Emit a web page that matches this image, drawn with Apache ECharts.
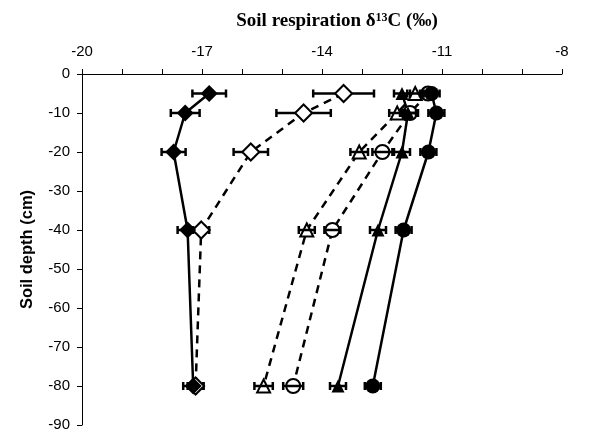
<!DOCTYPE html>
<html>
<head>
<meta charset="utf-8">
<script src="https://cdn.jsdelivr.net/npm/echarts@6/dist/echarts.min.js"></script>
<style>
  html, body { margin: 0; padding: 0; background: #fff; }
  #chart { width: 599px; height: 435px; }
</style>
</head>
<body>
<div id="chart"></div>
<script>
// 土壤深度 (cm)
const depths = [-5, -10, -20, -40, -80]

// 各处理的 δ13C 均值
const filledDiamond = [-16.82, -17.42, -17.71, -17.36, -17.22]
const openDiamond = [-13.46, -14.46, -15.78, -17.02, -17.16]
const openTriangle = [-11.67, -12.12, -13.07, -14.38, -15.46]
const openCircle = [-11.35, -11.8, -12.49, -13.74, -14.72]
const filledTriangle = [-12.0, -11.85, -12.0, -12.6, -13.6]
const filledCircle = [-11.26, -11.14, -11.34, -11.96, -12.73]

// 误差 (±)
const filledDiamondErr = [0.42, 0.36, 0.3, 0.25, 0.25]
const openDiamondErr = [0.76, 0.68, 0.43, 0.2, 0.2]
const openTriangleErr = [0.2, 0.2, 0.22, 0.2, 0.23]
const openCircleErr = [0.2, 0.2, 0.25, 0.2, 0.25]
const filledTriangleErr = [0.2, 0.2, 0.2, 0.2, 0.2]
const filledCircleErr = [0.2, 0.2, 0.2, 0.2, 0.2]

const xTicks = [-20, -17, -14, -11, -8]
const yTicks = [0, -10, -20, -30, -40, -50, -60, -70, -80, -90]

const chart = echarts.init(document.getElementById('chart'))

// 折线 + 标记
const makeLine = (values, symbol, filled, dashed, size) => ({
  type: 'line',
  data: values.map((v, i) => [v, depths[i]]),
  symbol: symbol,
  symbolSize: size,
  showSymbol: true,
  lineStyle: { color: '#000', width: 2.5, type: dashed ? [8, 6] : 'solid' },
  itemStyle: { color: filled ? '#000' : '#fff', borderColor: '#000', borderWidth: filled ? 0 : 2 },
  z: 3,
  animation: false
})

// 水平误差线
const makeErr = (values, errs, z) => ({
  type: 'custom',
  data: values.map((v, i) => [v, depths[i], errs[i]]),
  renderItem: (params, api) => {
    const x = api.value(0)
    const y = api.value(1)
    const e = api.value(2)
    const p1 = api.coord([x - e, y])
    const p2 = api.coord([x + e, y])
    const cap = 4
    const style = { stroke: '#000', lineWidth: 2.5 }
    return {
      type: 'group',
      children: [
        { type: 'line', shape: { x1: p1[0], y1: p1[1], x2: p2[0], y2: p2[1] }, style },
        { type: 'line', shape: { x1: p1[0], y1: p1[1] - cap, x2: p1[0], y2: p1[1] + cap }, style },
        { type: 'line', shape: { x1: p2[0], y1: p2[1] - cap, x2: p2[0], y2: p2[1] + cap }, style }
      ]
    }
  },
  z: z,
  animation: false
})

chart.setOption({
  animation: false,
  grid: { left: 82, right: 37, top: 74, bottom: 10 },
  xAxis: {
    type: 'value',
    position: 'top',
    min: xTicks[0],
    max: xTicks[xTicks.length - 1],
    interval: 3,
    name: '{b|Soil respiration δ}{s|13}{b|C (‰)}',
    nameLocation: 'middle',
    nameGap: 43,
    nameTextStyle: {
      padding: [0, 0, 0, 30],
      rich: {
        b: { fontFamily: 'Liberation Serif', fontWeight: 'bold', fontSize: 19, color: '#000' },
        s: { fontFamily: 'Liberation Serif', fontWeight: 'bold', fontSize: 12, color: '#000', verticalAlign: 'top', padding: [0, 0, 7, 0] }
      }
    },
    axisLine: { show: true, onZero: false, lineStyle: { color: '#000', width: 1 } },
    axisTick: { show: true, inside: false, length: 5, lineStyle: { color: '#000' } },
    minorTick: { show: true, splitNumber: 3, length: 5, lineStyle: { color: '#000' } },
    axisLabel: { fontFamily: 'Liberation Sans', fontSize: 15, color: '#000', margin: 15 },
    splitLine: { show: false }
  },
  yAxis: {
    type: 'value',
    min: yTicks[yTicks.length - 1],
    max: yTicks[0],
    interval: 10,
    name: 'Soil depth (cm)',
    nameLocation: 'middle',
    nameGap: 46,
    nameTextStyle: { fontFamily: 'Liberation Sans', fontWeight: 'bold', fontSize: 16.5, color: '#000' },
    axisLine: { show: true, onZero: false, lineStyle: { color: '#000', width: 1 } },
    axisTick: { show: true, length: 5, lineStyle: { color: '#000' } },
    axisLabel: { fontFamily: 'Liberation Sans', fontSize: 15, color: '#000', margin: 12 },
    splitLine: { show: false }
  },
  series: [
    makeErr(filledDiamond, filledDiamondErr, 2),
    makeErr(openDiamond, openDiamondErr, 2),
    makeLine(openDiamond, 'diamond', false, true, 17),
    makeLine(filledDiamond, 'diamond', true, false, 17),
    makeLine(openTriangle, 'triangle', false, true, 13),
    makeLine(openCircle, 'circle', false, true, 14),
    makeLine(filledTriangle, 'triangle', true, false, 13),
    makeLine(filledCircle, 'circle', true, false, 15),
    makeErr(openTriangle, openTriangleErr, 4),
    makeErr(openCircle, openCircleErr, 4),
    makeErr(filledTriangle, filledTriangleErr, 4),
    makeErr(filledCircle, filledCircleErr, 4)
  ]
})
</script>
</body>
</html>
